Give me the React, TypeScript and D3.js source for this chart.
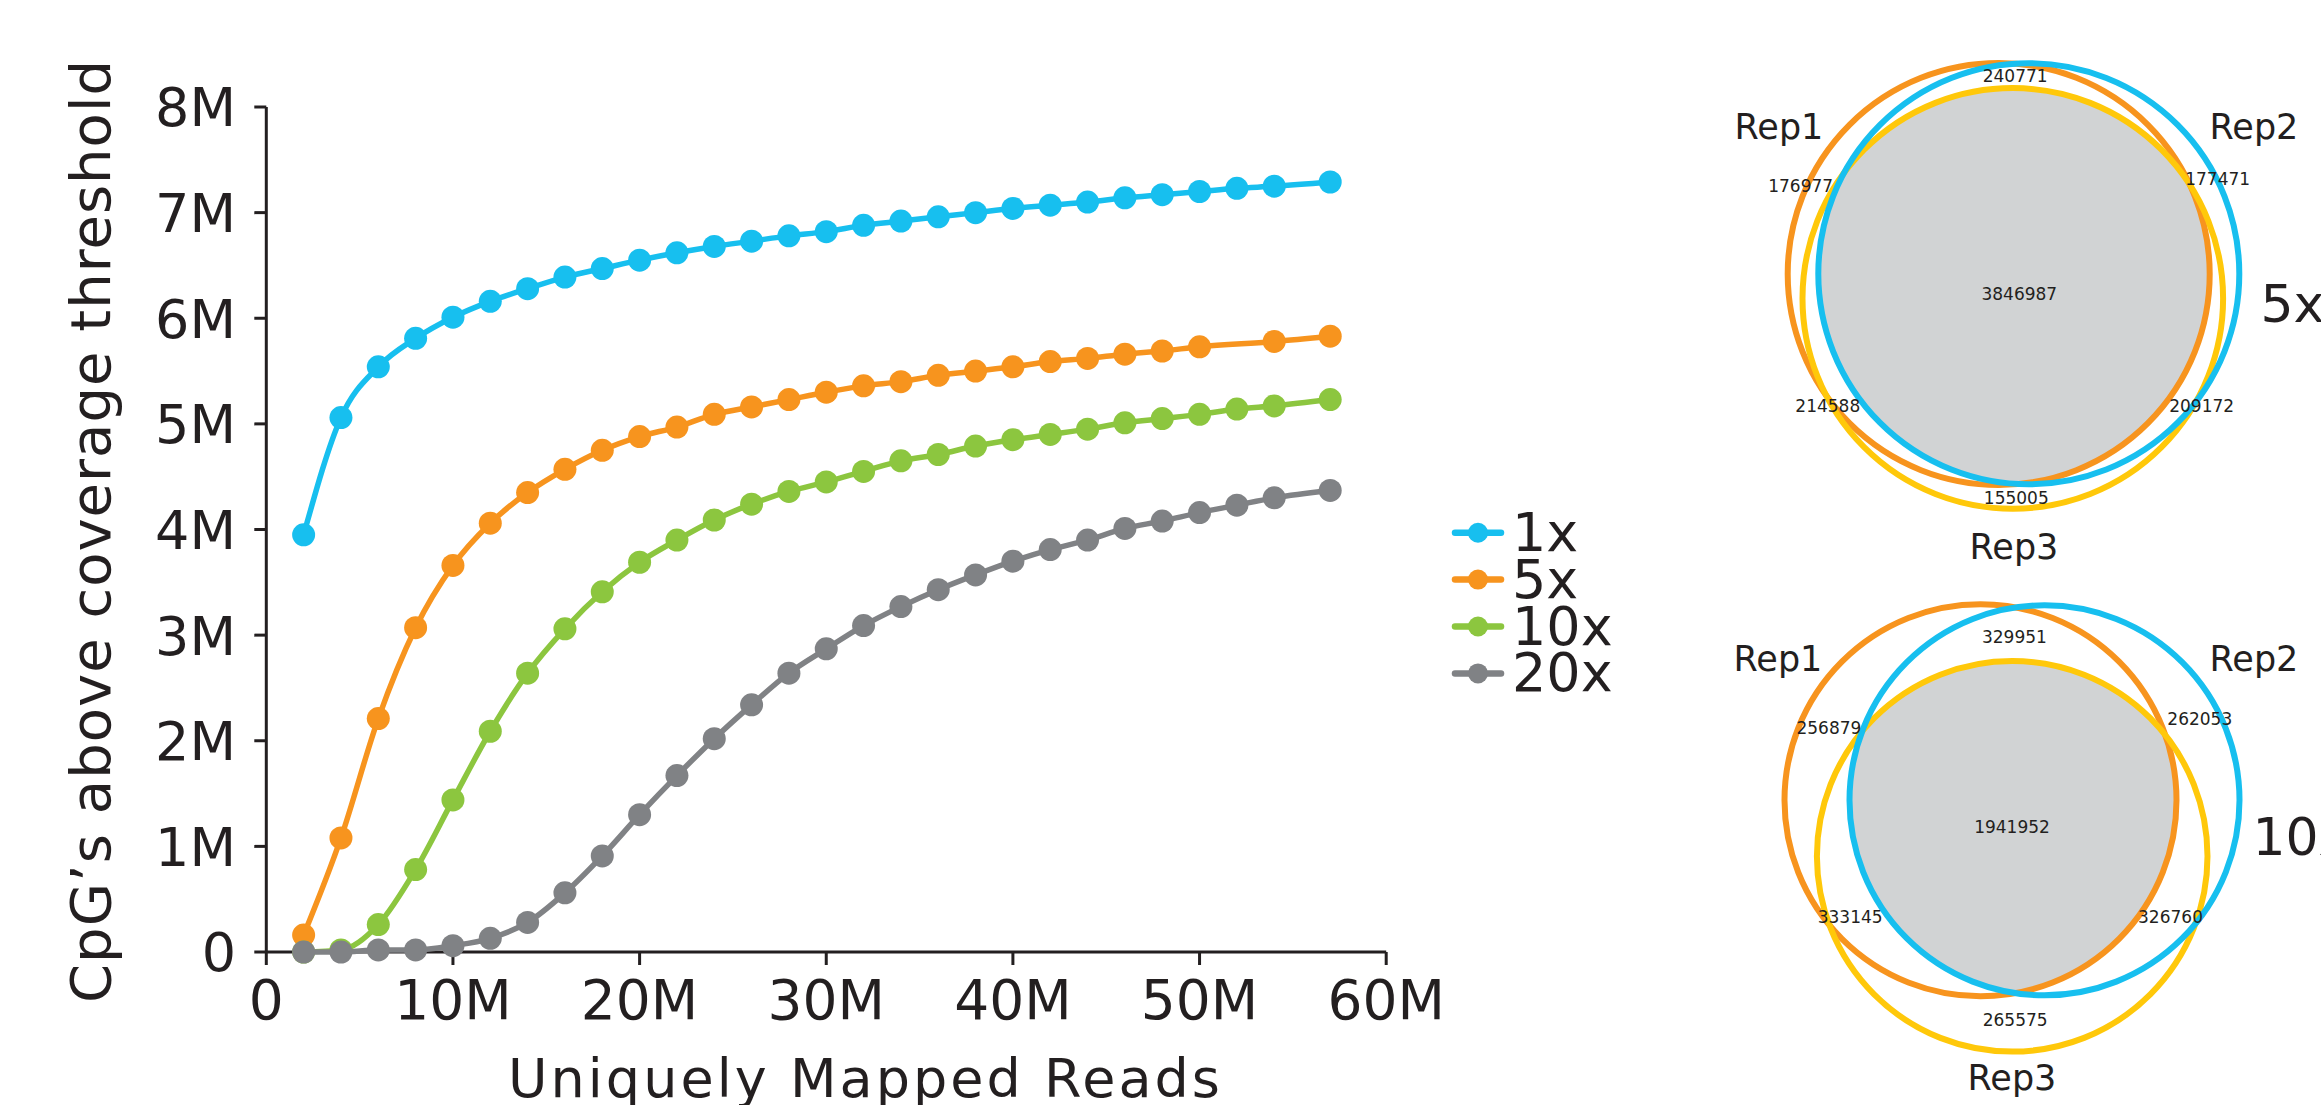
import React from 'react';
import * as d3 from 'd3';

// ---------- DATA ----------
const readsM = [2, 4, 6, 8, 10, 12, 14, 16, 18, 20, 22, 24, 26, 28, 30, 32, 34, 36, 38, 40, 42, 44, 46, 48, 50, 52, 54, 57];
const cov1x = [3.95, 5.06, 5.54, 5.81, 6.01, 6.16, 6.28, 6.39, 6.47, 6.55, 6.62, 6.68, 6.73, 6.78, 6.82, 6.88, 6.92, 6.96, 7.0, 7.04, 7.07, 7.1, 7.14, 7.17, 7.2, 7.23, 7.25, 7.29];
const cov5x = [0.16, 1.08, 2.21, 3.07, 3.66, 4.06, 4.35, 4.57, 4.75, 4.88, 4.97, 5.09, 5.16, 5.23, 5.3, 5.36, 5.4, 5.46, 5.5, 5.54, 5.59, 5.62, 5.66, 5.69, 5.73, null, 5.78, 5.83];
const cov10x = [0, 0.02, 0.26, 0.78, 1.44, 2.09, 2.64, 3.06, 3.41, 3.69, 3.9, 4.09, 4.24, 4.36, 4.45, 4.55, 4.65, 4.71, 4.79, 4.85, 4.9, 4.95, 5.01, 5.05, 5.09, 5.14, 5.17, 5.23];
const cov20x = [0, 0, 0.02, 0.02, 0.06, 0.13, 0.28, 0.56, 0.91, 1.3, 1.67, 2.02, 2.34, 2.64, 2.87, 3.09, 3.27, 3.43, 3.57, 3.7, 3.81, 3.9, 4.01, 4.08, 4.16, 4.23, 4.3, 4.37];
const seriesNames = ['1x', '5x', '10x', '20x'];
const xTicks = [0, 10, 20, 30, 40, 50, 60];
const yTicks = [0, 1, 2, 3, 4, 5, 6, 7, 8];
const xTitle = 'Uniquely Mapped Reads';
const yTitle = 'CpG\u2019s above coverage threshold';

const vennSetNames = ['Rep1', 'Rep2', 'Rep3'];
const vennThresholds = ['5x', '10x'];
const venn5xCounts = [240771, 176977, 177471, 3846987, 214588, 209172, 155005];
const venn10xCounts = [329951, 256879, 262053, 1941952, 333145, 326760, 265575];

// ---------- STYLE / LAYOUT ----------
const FONT = '"DejaVu Sans", sans-serif';
const TEXT = '#231F20';
const seriesColors = ['#17BFEF', '#F7941E', '#8CC63F', '#808285'];
const vennColors = ['#F7941E', '#17BFEF', '#FFC80A'];
const VENN_FILL = '#D1D3D4';

const plot = { left: 266.3, right: 1386.2, top: 107, bottom: 952 };

const vennLayouts = [
  {
    circles: [
      { cx: 1998.7, cy: 274, r: 211 },
      { cx: 2028.8, cy: 273.8, r: 210.5 },
      { cx: 2012.8, cy: 298.4, r: 210.3 },
    ],
    setLabels: [
      { x: 1779, y: 138.7 },
      { x: 2254, y: 138.7 },
      { x: 2014, y: 558.6 },
    ],
    title: { x: 2260.5, y: 321.9 },
    counts: [
      { x: 2015.2, y: 82.1 },
      { x: 1800.7, y: 192.4 },
      { x: 2217.7, y: 185 },
      { x: 2019.3, y: 299.7 },
      { x: 1827.8, y: 411.8 },
      { x: 2201.7, y: 411.8 },
      { x: 2016.3, y: 503.9 },
    ],
  },
  {
    circles: [
      { cx: 1980.5, cy: 800.3, r: 196 },
      { cx: 2044.5, cy: 800.3, r: 195 },
      { cx: 2012.2, cy: 856.3, r: 195.3 },
    ],
    setLabels: [
      { x: 1778, y: 671.2 },
      { x: 2254, y: 671.2 },
      { x: 2012, y: 1090 },
    ],
    title: { x: 2252.4, y: 855.4 },
    counts: [
      { x: 2014.4, y: 643.4 },
      { x: 1828.9, y: 733.8 },
      { x: 2199.8, y: 725.1 },
      { x: 2012, y: 832.9 },
      { x: 1850.2, y: 922.5 },
      { x: 2170.5, y: 922.5 },
      { x: 2015.2, y: 1025.8 },
    ],
  },
];

export default function App() {
  const x = d3.scaleLinear().domain([0, 60]).range([plot.left, plot.right]);
  const y = d3.scaleLinear().domain([0, 8]).range([plot.bottom, plot.top]);

  const allSeries = [cov1x, cov5x, cov10x, cov20x].map((vals) =>
    readsM.map((r, i) => ({ r, v: vals[i] })).filter((d) => d.v !== null && d.v !== undefined)
  );
  const line = d3
    .line<{ r: number; v: number }>()
    .x((d) => x(d.r))
    .y((d) => y(d.v as number))
    .curve(d3.curveMonotoneX);

  const fmtX = (v: number) => (v === 0 ? '0' : `${v}M`);
  const fmtY = (v: number) => (v === 0 ? '0' : `${v}M`);
  const vennCounts = [venn5xCounts, venn10xCounts];

  return (
    <svg
      width={2321}
      height={1105}
      style={{ position: 'absolute', left: 0, top: 0, background: '#fff' }}
      fontFamily={FONT}
    >
      <rect x={0} y={0} width={2321} height={1105} fill="#fff" />
      {/* axes */}
      <line x1={plot.left} x2={plot.left} y1={y(8)} y2={y(0)} stroke={TEXT} strokeWidth={3} />
      <line x1={x(0)} x2={x(60)} y1={plot.bottom} y2={plot.bottom} stroke={TEXT} strokeWidth={3} />
      {yTicks.map((t) => (
        <g key={'y' + t}>
          <line x1={plot.left - 12} x2={plot.left} y1={y(t)} y2={y(t)} stroke={TEXT} strokeWidth={3} />
          <text x={236} y={y(t)} dy="0.36em" textAnchor="end" fontSize={54} fill={TEXT}>
            {fmtY(t)}
          </text>
        </g>
      ))}
      {xTicks.map((t) => (
        <g key={'x' + t}>
          <line x1={x(t)} x2={x(t)} y1={plot.bottom} y2={plot.bottom + 13} stroke={TEXT} strokeWidth={3} />
          <text x={x(t)} y={1019} textAnchor="middle" fontSize={55} fill={TEXT}>
            {fmtX(t)}
          </text>
        </g>
      ))}
      <text
        x={(508 + 1220) / 2}
        y={1097}
        textAnchor="middle"
        fontSize={54}
        fill={TEXT}
        textLength={712}
        lengthAdjust="spacing"
      >
        {xTitle}
      </text>
      <text
        transform={`translate(110, 531.5) rotate(-90)`}
        textAnchor="middle"
        fontSize={56}
        fill={TEXT}
        textLength={943}
        lengthAdjust="spacing"
      >
        {yTitle}
      </text>

      {/* series */}
      {allSeries.map((s, i) => (
        <g key={'s' + i}>
          <path d={line(s as any) || ''} fill="none" stroke={seriesColors[i]} strokeWidth={5.5} />
          {s.map((d, j) => (
            <circle key={j} cx={x(d.r)} cy={y(d.v as number)} r={11.5} fill={seriesColors[i]} />
          ))}
        </g>
      ))}

      {/* legend */}
      {seriesNames.map((n, i) => {
        const cy = 532.7 + i * 46.9;
        return (
          <g key={'l' + n}>
            <line x1={1455} x2={1501} y1={cy} y2={cy} stroke={seriesColors[i]} strokeWidth={6.5} strokeLinecap="round" />
            <circle cx={1478} cy={cy} r={10} fill={seriesColors[i]} />
            <text x={1512} y={cy + 18} fontSize={54} fill={TEXT}>
              {n}
            </text>
          </g>
        );
      })}

      {/* venn diagrams */}
      <defs>
        {vennLayouts.map((L, k) =>
          L.circles.slice(0, 2).map((c, j) => (
            <clipPath id={`vclip-${k}-${j}`} key={`cp${k}${j}`}>
              <circle cx={c.cx} cy={c.cy} r={c.r} />
            </clipPath>
          ))
        )}
      </defs>
      {vennLayouts.map((L, k) => (
        <g key={'v' + k}>
          <g clipPath={`url(#vclip-${k}-0)`}>
            <g clipPath={`url(#vclip-${k}-1)`}>
              <circle cx={L.circles[2].cx} cy={L.circles[2].cy} r={L.circles[2].r} fill={VENN_FILL} />
            </g>
          </g>
          {[0, 2, 1].map((j) => (
            <circle
              key={'c' + j}
              cx={L.circles[j].cx}
              cy={L.circles[j].cy}
              r={L.circles[j].r}
              fill="none"
              stroke={vennColors[j]}
              strokeWidth={6}
            />
          ))}
          {vennSetNames.map((n, j) => (
            <text key={'sn' + j} x={L.setLabels[j].x} y={L.setLabels[j].y} textAnchor="middle" fontSize={35} fill={TEXT}>
              {n}
            </text>
          ))}
          <text x={L.title.x} y={L.title.y} fontSize={52} fill={TEXT}>
            {vennThresholds[k]}
          </text>
          {vennCounts[k].map((c, j) => (
            <text key={'n' + j} x={L.counts[j].x} y={L.counts[j].y} textAnchor="middle" fontSize={17} fill={TEXT}>
              {String(c)}
            </text>
          ))}
        </g>
      ))}
    </svg>
  );
}
